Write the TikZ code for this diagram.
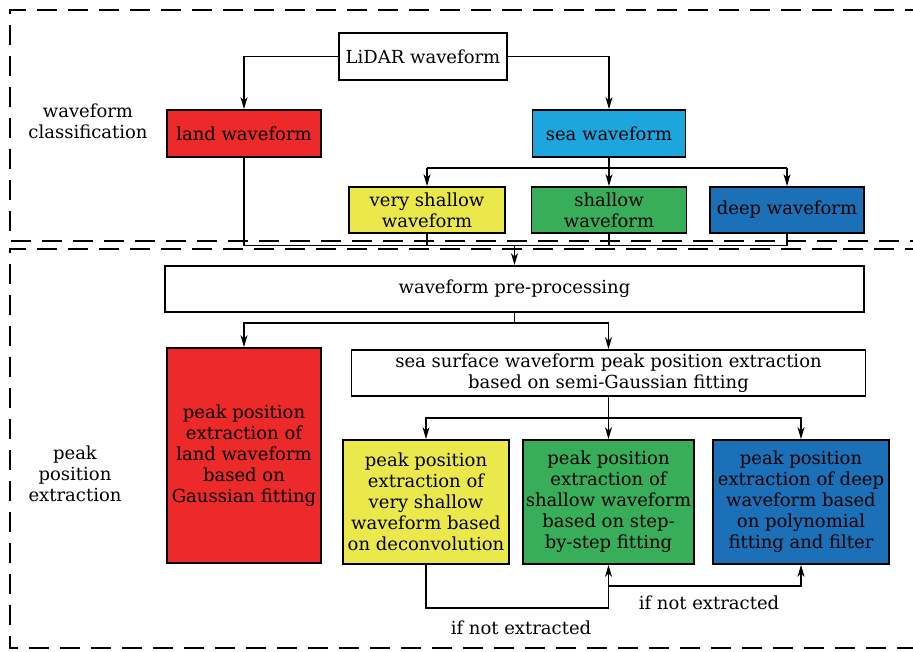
\documentclass[tikz,border=0pt]{standalone}
\usepackage{fontspec}
\setmainfont{DejaVu Serif}
\usetikzlibrary{arrows.meta}
\definecolor{landred}{RGB}{237,42,42}
\definecolor{seablue}{RGB}{29,166,222}
\definecolor{vsyellow}{RGB}{234,232,74}
\definecolor{shgreen}{RGB}{57,174,90}
\definecolor{deepblue}{RGB}{27,112,183}
\begin{document}
\begin{tikzpicture}[x=1pt,y=-1pt,
  box/.style={draw=black, line width=1.8pt, align=center, inner sep=0pt,
    font=\fontsize{18}{21}\selectfont},
  conn/.style={line width=1.5pt},
  arr/.style={conn, -{Stealth[length=12pt,width=7pt,inset=3.5pt]}},
  frame/.style={line width=1.8pt, dash pattern=on 20pt off 11pt},
  lbl/.style={font=\fontsize{18}{21}\selectfont, align=center}]
\useasboundingbox (0,0) rectangle (913,651);
\clip (0,0) rectangle (913,651);
\fill[white] (0,0) rectangle (913,651);

% frames
\draw[frame] (925,10) -- (10,10) -- (10,241) -- (925,241);
\draw[frame] (925,249) -- (10,249) -- (10,648) -- (925,648);

% side labels
\node[lbl] (wc) at (88,121) {waveform\\classification};
\node[lbl] (ppe) at (75,474) {peak\\position\\extraction};

% top section
\node[box, fill=white, minimum width=168pt, minimum height=47pt] (lidar) at (423,56.5) {LiDAR waveform};
\node[box, fill=landred, minimum width=154pt, minimum height=47pt] (land) at (244,133.5) {land waveform};
\node[box, fill=seablue, minimum width=153pt, minimum height=47pt] (sea) at (609,133.5) {sea waveform};
\node[box, fill=vsyellow, minimum width=156pt, minimum height=46pt] (vs) at (427,210) {very shallow\\waveform};
\node[box, fill=shgreen, minimum width=155pt, minimum height=46pt] (sh) at (609,210) {shallow\\waveform};
\node[box, fill=deepblue, minimum width=154pt, minimum height=46pt] (deep) at (787,210) {deep waveform};

% bottom section
\node[box, fill=white, minimum width=699pt, minimum height=46pt] (pre) at (514.5,289) {waveform pre-processing};
\node[box, fill=landred, minimum width=154pt, minimum height=215pt] (landpk) at (244,455.5)
  {peak position\\extraction of\\land waveform\\based on\\Gaussian fitting};
\node[box, fill=white, minimum width=514pt, minimum height=46pt] (surf) at (608.5,373)
  {sea surface waveform peak position extraction\\based on semi-Gaussian fitting};
\node[box, fill=vsyellow, minimum width=166pt, minimum height=124pt] (vspk) at (426,502)
  {peak position\\extraction of\\very shallow\\waveform based\\on deconvolution};
\node[box, fill=shgreen, minimum width=171pt, minimum height=124pt, align=none] (shpk) at (608.5,502)
  {\raisebox{4pt}{\begin{tabular}{@{}c@{}}peak position\\extraction of\\shallow waveform\\based on step-\\by-step fitting\end{tabular}}};
\node[box, fill=deepblue, minimum width=176pt, minimum height=124pt] (dppk) at (801,502)
  {peak position\\extraction of deep\\waveform based\\on polynomial\\fitting and filter};

\node[lbl] (nx1) at (521,628) {if not extracted};
\node[lbl] (nx2) at (709,603) {if not extracted};

% connectors top
\draw[arr] (lidar.west) -| (land.north);
\draw[arr] (lidar.east) -| (sea.north);
\coordinate (sj) at (609,168);
\draw[conn] (sea.south) -- (sj);
\draw[conn] (vs.north|-sj) -- (deep.north|-sj);
\draw[arr] (vs.north|-sj) -- (vs.north);
\draw[arr] (sh.north|-sj) -- (sh.north);
\draw[arr] (deep.north|-sj) -- (deep.north);

% collect
\coordinate (cj) at (514.5,245.5);
\draw[conn] (land.south) -- (land.south|-cj) -- (deep.south|-cj) -- (deep.south);
\draw[conn] (vs.south) -- (vs.south|-cj);
\draw[conn] (sh.south) -- (sh.south|-cj);
\draw[arr] (pre.north|-cj) -- (pre.north);

% pre to next
\coordinate (pj) at (514.5,323);
\draw[conn] (pre.south) -- (pj);
\draw[arr] (pj) -| (landpk.north);
\draw[arr] (pj) -| (surf.north);

% surface to three
\coordinate (qj) at (608.5,418);
\draw[conn] (surf.south) -- (qj);
\draw[arr] (qj) -| (vspk.north);
\draw[arr] (qj) -- (shpk.north);
\draw[arr] (qj) -| (dppk.north);

% feedback
\draw[arr] (vspk.south) -- ++(0,43) -| (shpk.south);
\path (shpk.south) ++(0,21) coordinate (f2);
\draw[arr] (f2) -| (dppk.south);
\end{tikzpicture}
\end{document}
